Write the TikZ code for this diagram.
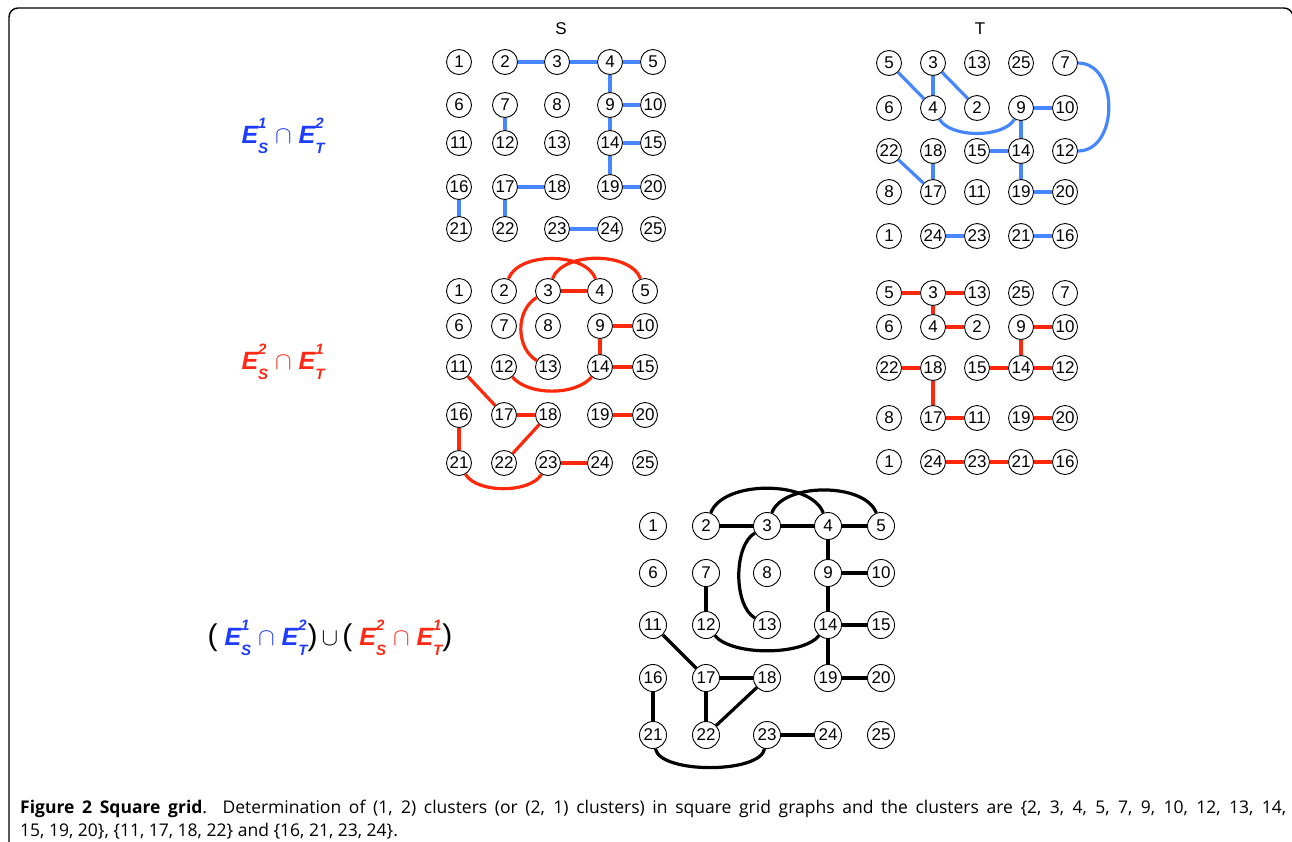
\documentclass[tikz,border=0pt]{standalone}
\usepackage{fontspec}
\setmainfont{Liberation Sans}
\newfontfamily\capfont{Open Sans}
\definecolor{eblue}{RGB}{70,135,255}
\definecolor{lblue}{RGB}{30,60,255}
\definecolor{ered}{RGB}{255,40,10}
\definecolor{lred}{RGB}{255,40,20}
\newcommand\EX[2]{E\rlap{\raisebox{0.6em}{\fontsize{15}{15}\selectfont #1}}\raisebox{-0.4em}{\fontsize{15}{15}\selectfont #2}}
\newcommand\capsym{{\normalfont\fontsize{30}{30}\selectfont$\cap$}}
\newcommand\bigpar[1]{{\normalfont\fontsize{30}{30}\selectfont #1}}
\begin{document}
\begin{tikzpicture}[x=1pt,y=1pt,
  gn/.style={circle,draw,line width=0.9pt,minimum size=25pt,inner sep=0pt,font=\fontsize{17}{17}\selectfont},
  gb/.style={gn,minimum size=27pt},
  be/.style={draw=eblue,line width=3.2pt},
  re/.style={draw=ered,line width=3.2pt},
  ke/.style={draw=black,line width=3.2pt},
  lbl/.style={font=\fontsize{25}{25}\selectfont\bfseries\itshape}]
\clip (0,0) rectangle (1292,-841);
\draw[line width=1.4pt,rounded corners=9pt] (9,-848) -- (9,-8) -- (1293,-8) -- (1293,-848);
% titles
\node[font=\fontsize{17}{17}\selectfont] (tS) at (561,-29) {S};
\node[font=\fontsize{17}{17}\selectfont] (tT) at (980,-29) {T};
% top S
\foreach \y [count=\r] in {62,105,143,187,229}
  \foreach \x [count=\c] in {459,505,557,610,653}
  {\pgfmathtruncatemacro\n{(\r-1)*5+\c}\node[gn] (a\n) at (\x,-\y) {\n};}
% top T
\foreach \y/\labs in {63/{5,3,13,25,7},108/{6,4,2,9,10},151/{22,18,15,14,12},192/{8,17,11,19,20},236/{1,24,23,21,16}}
  {\foreach \l [count=\c] in \labs {\pgfmathsetmacro\x{889+(\c-1)*44}\node[gn] (b\l) at (\x,-\y) {\l};}}
% mid S
\foreach \y [count=\r] in {291,326,367,415,463}
  \foreach \x [count=\c] in {459,504,548,600,645}
  {\pgfmathtruncatemacro\n{(\r-1)*5+\c}\node[gn] (c\n) at (\x,-\y) {\n};}
% mid T
\foreach \y/\labs in {293/{5,3,13,25,7},327/{6,4,2,9,10},368/{22,18,15,14,12},418/{8,17,11,19,20},462/{1,24,23,21,16}}
  {\foreach \l [count=\c] in \labs {\pgfmathsetmacro\x{889+(\c-1)*44}\node[gn] (d\l) at (\x,-\y) {\l};}}
% bottom
\foreach \y [count=\r] in {526,573,625,678,735}
  \foreach \x [count=\c] in {653,706,767,828,881}
  {\pgfmathtruncatemacro\n{(\r-1)*5+\c}\node[gb] (e\n) at (\x,-\y) {\n};}
% top S edges
\foreach \u/\v in {2/3,3/4,4/5,4/9,9/10,9/14,14/15,14/19,19/20,7/12,16/21,17/18,17/22,23/24}
  \draw[be] (a\u) -- (a\v);
% top T edges
\foreach \u/\v in {5/4,3/4,3/2,9/10,9/14,15/14,14/19,19/20,22/17,18/17,24/23,21/16}
  \draw[be] (b\u) -- (b\v);
\draw[be] (b4) to[out=-60,in=-120,looseness=0.75] (b9);
\draw[be] (b7) to[out=0,in=0,looseness=1.2] (b12);
% mid S edges
\foreach \u/\v in {3/4,9/10,9/14,14/15,11/17,17/18,18/22,16/21,23/24,19/20}
  \draw[re] (c\u) -- (c\v);
\draw[re] (c2) to[out=70,in=110,looseness=0.85] (c4);
\draw[re] (c3) to[out=70,in=110,looseness=0.85] (c5);
\draw[re] (c3) to[out=210,in=150] (c13);
\draw[re] (c12) to[out=-50,in=-130,looseness=0.8] (c14);
\draw[re] (c21) to[out=-60,in=-120,looseness=0.75] (c23);
% mid T edges
\foreach \u/\v in {5/3,3/13,3/4,4/2,9/10,9/14,15/14,14/12,22/18,18/17,17/11,19/20,24/23,23/21,21/16}
  \draw[re] (d\u) -- (d\v);
% bottom edges
\foreach \u/\v in {2/3,3/4,4/5,4/9,9/10,9/14,14/15,14/19,19/20,7/12,11/17,17/18,17/22,18/22,16/21,23/24}
  \draw[ke] (e\u) -- (e\v);
\draw[ke] (e2) to[out=70,in=110,looseness=0.8] (e4);
\draw[ke] (e3) to[out=70,in=110,looseness=0.8] (e5);
\draw[ke] (e3) to[out=210,in=150,looseness=0.75] (e13);
\draw[ke] (e12) to[out=-50,in=-130,looseness=0.65] (e14);
\draw[ke] (e21) to[out=-80,in=-100,looseness=0.6] (e23);
% labels
\node[lbl,text=lblue] (L1) at (283,-136) {\EX{1}{S}\;\capsym\;\EX{2}{T}};
\node[lbl,text=lred] (L2) at (283,-362) {\EX{2}{S}\;\capsym\;\EX{1}{T}};
\node[lbl] (L3) at (330,-638) {\bigpar{(}\;{\color{lblue}\EX{1}{S}\;\capsym\;\EX{2}{T}}\bigpar{)}\,{\normalfont\fontsize{30}{30}\selectfont$\cup$}\,\bigpar{(}\;{\color{lred}\EX{2}{S}\;\capsym\;\EX{1}{T}}\bigpar{)}};
% caption
\node[anchor=base west,text width=1266pt,align=justify,inner sep=0pt,font=\capfont\fontsize{17.5}{23}\selectfont] (cap) at (20,-813)
 {{\bfseries Figure 2 Square grid}. Determination of (1, 2) clusters (or (2, 1) clusters) in square grid graphs and the clusters are \{2, 3, 4, 5, 7, 9, 10, 12, 13, 14,\linebreak 15, 19, 20\}, \{11, 17, 18, 22\} and \{16, 21, 23, 24\}.};
\end{tikzpicture}
\end{document}
